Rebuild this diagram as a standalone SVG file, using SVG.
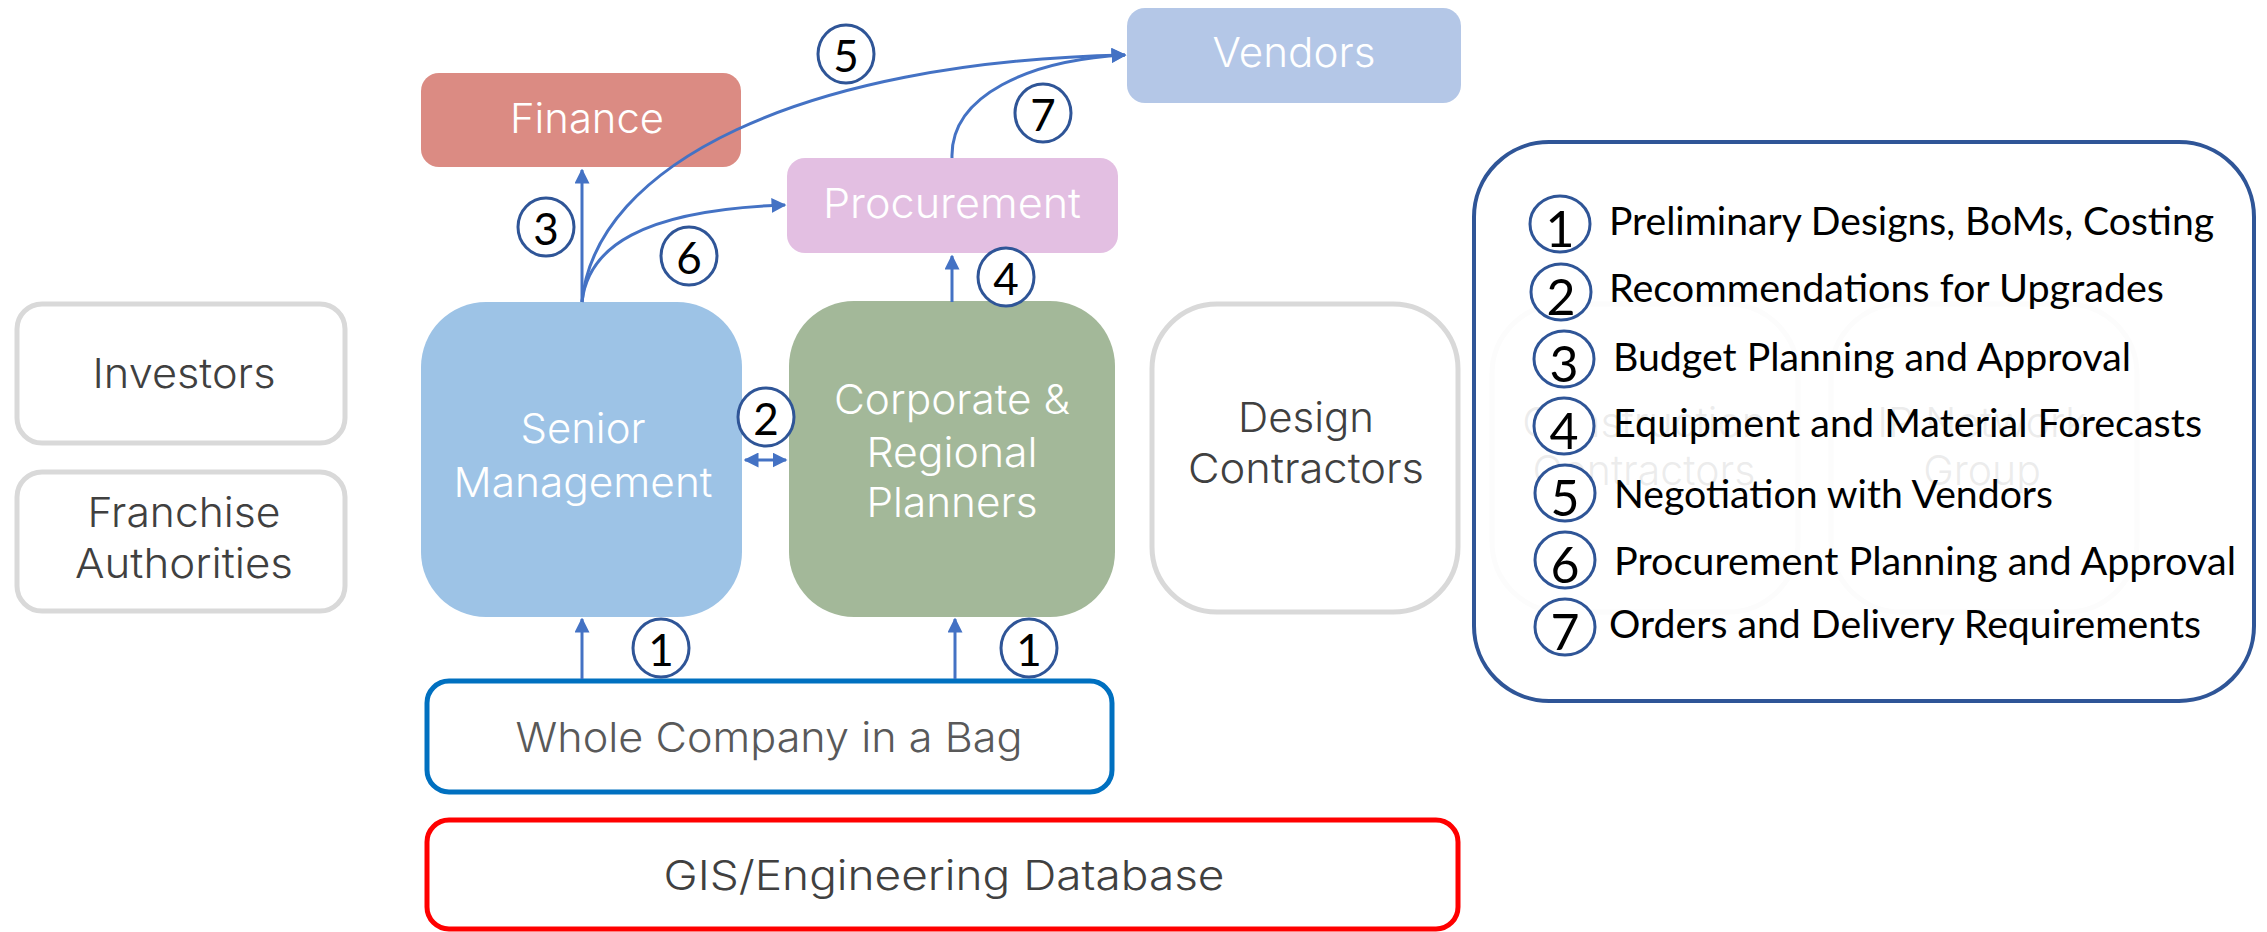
<svg xmlns="http://www.w3.org/2000/svg" width="2267" height="932" viewBox="0 0 2267 932">
  <defs>
    <marker id="arrow" viewBox="0 0 10 10" refX="9" refY="5" markerWidth="5" markerHeight="5" orient="auto-start-reverse" markerUnits="strokeWidth">
      <path d="M0,0 L10,5 L0,10 z" fill="#4472C4"/>
    </marker>
    <style>
      .lbl { font-family: Inter, "Liberation Sans", sans-serif; font-weight: 300; font-size: 41px; text-anchor: middle; }
      .light { fill: #ffffff; }
      .dark { fill: #404040; }
      .ghost { fill: #ececec; }
      .outline { fill: #ffffff; stroke: #d9d9d9; stroke-width: 5; }
      .ghostbox { fill: none; stroke: #d9d9d9; stroke-width: 5; }
      .num { font-family: Lato, "Liberation Sans", sans-serif; font-size: 44px; fill: #000000; text-anchor: middle; }
      .lnum { font-family: Lato, "Liberation Sans", sans-serif; font-size: 50px; fill: #000000; text-anchor: middle; }
      .badge { fill: #ffffff; stroke: #2F5597; stroke-width: 3; }
      .item { font-family: Lato, "Liberation Sans", sans-serif; font-size: 38px; fill: #000000; }
      .conn { fill: none; stroke: #4472C4; stroke-width: 3; }
    </style>
  </defs>

  <!-- stakeholder boxes behind the legend -->
  <g id="construction-contractors">
    <rect class="ghostbox" x="1492" y="304" width="306" height="308" rx="70"/>
    <text class="lbl dark" x="1644" y="437">Construction</text>
    <text class="lbl dark" x="1644" y="485">Contractors</text>
  </g>
  <g id="ip-network-group">
    <rect class="ghostbox" x="1831" y="304" width="306" height="308" rx="70"/>
    <text class="lbl dark" x="1982" y="437">IP Network</text>
    <text class="lbl dark" x="1982" y="485">Group</text>
  </g>

  <!-- legend -->
  <g id="legend">
    <rect x="1474" y="142" width="780" height="559" rx="75" fill="#ffffff" fill-opacity="0.9" stroke="#2F5597" stroke-width="4"/>
    <g>
      <ellipse class="badge" cx="1560" cy="224" rx="30" ry="28"/>
      <text class="lnum" x="1560" y="247">1</text>
      <text class="item" x="1609" y="235" textLength="605" lengthAdjust="spacingAndGlyphs">Preliminary Designs, BoMs, Costing</text>
    </g>
    <g>
      <ellipse class="badge" cx="1561" cy="292" rx="30" ry="28"/>
      <text class="lnum" x="1561" y="315">2</text>
      <text class="item" x="1609" y="302" textLength="555" lengthAdjust="spacingAndGlyphs">Recommendations for Upgrades</text>
    </g>
    <g>
      <ellipse class="badge" cx="1564" cy="359" rx="30" ry="28"/>
      <text class="lnum" x="1564" y="382">3</text>
      <text class="item" x="1613" y="371" textLength="518" lengthAdjust="spacingAndGlyphs">Budget Planning and Approval</text>
    </g>
    <g>
      <ellipse class="badge" cx="1564" cy="426" rx="30" ry="28"/>
      <text class="lnum" x="1564" y="449">4</text>
      <text class="item" x="1613" y="437" textLength="589" lengthAdjust="spacingAndGlyphs">Equipment and Material Forecasts</text>
    </g>
    <g>
      <ellipse class="badge" cx="1565" cy="493" rx="30" ry="28"/>
      <text class="lnum" x="1565" y="516">5</text>
      <text class="item" x="1614" y="508" textLength="439" lengthAdjust="spacingAndGlyphs">Negotiation with Vendors</text>
    </g>
    <g>
      <ellipse class="badge" cx="1565" cy="560" rx="30" ry="28"/>
      <text class="lnum" x="1565" y="583">6</text>
      <text class="item" x="1614" y="575" textLength="622" lengthAdjust="spacingAndGlyphs">Procurement Planning and Approval</text>
    </g>
    <g>
      <ellipse class="badge" cx="1565" cy="627" rx="30" ry="28"/>
      <text class="lnum" x="1565" y="650">7</text>
      <text class="item" x="1609" y="638" textLength="592" lengthAdjust="spacingAndGlyphs">Orders and Delivery Requirements</text>
    </g>
  </g>

  <!-- nodes -->
  <g id="investors">
    <rect class="outline" x="17" y="304" width="328" height="139" rx="25"/>
    <text class="lbl dark" x="184" y="388" textLength="183" lengthAdjust="spacingAndGlyphs">Investors</text>
  </g>
  <g id="franchise-authorities">
    <rect class="outline" x="17" y="472" width="328" height="139" rx="25"/>
    <text class="lbl dark" x="184" y="527" textLength="193" lengthAdjust="spacingAndGlyphs">Franchise</text>
    <text class="lbl dark" x="184" y="578" textLength="218" lengthAdjust="spacingAndGlyphs">Authorities</text>
  </g>
  <g id="senior-management">
    <rect x="421" y="302" width="321" height="315" rx="65" fill="#9DC3E6"/>
    <text class="lbl light" x="583" y="443" textLength="125" lengthAdjust="spacingAndGlyphs">Senior</text>
    <text class="lbl light" x="583" y="497" textLength="259" lengthAdjust="spacingAndGlyphs">Management</text>
  </g>
  <g id="corporate-regional-planners">
    <rect x="789" y="301" width="326" height="316" rx="65" fill="#A3B899"/>
    <text class="lbl light" x="952" y="414" textLength="236" lengthAdjust="spacingAndGlyphs">Corporate &amp;</text>
    <text class="lbl light" x="952" y="467" textLength="171" lengthAdjust="spacingAndGlyphs">Regional</text>
    <text class="lbl light" x="952" y="517" textLength="171" lengthAdjust="spacingAndGlyphs">Planners</text>
  </g>
  <g id="design-contractors">
    <rect class="outline" x="1152" y="304" width="306" height="308" rx="65"/>
    <text class="lbl dark" x="1306" y="432" textLength="136" lengthAdjust="spacingAndGlyphs">Design</text>
    <text class="lbl dark" x="1306" y="483" textLength="236" lengthAdjust="spacingAndGlyphs">Contractors</text>
  </g>
  <g id="finance">
    <rect x="421" y="73" width="320" height="94" rx="18" fill="#DB8B83"/>
    <text class="lbl light" x="587" y="133" textLength="154" lengthAdjust="spacingAndGlyphs">Finance</text>
  </g>
  <g id="procurement">
    <rect x="787" y="158" width="331" height="95" rx="18" fill="#E3BFE2"/>
    <text class="lbl light" x="952" y="218" textLength="258" lengthAdjust="spacingAndGlyphs">Procurement</text>
  </g>
  <g id="vendors">
    <rect x="1127" y="8" width="334" height="95" rx="18" fill="#B4C7E7"/>
    <text class="lbl light" x="1294" y="67" textLength="163" lengthAdjust="spacingAndGlyphs">Vendors</text>
  </g>
  <g id="whole-company-in-a-bag">
    <rect x="427" y="681" width="685" height="111" rx="22" fill="#ffffff" stroke="#0070C0" stroke-width="5"/>
    <text class="lbl" x="769" y="752" fill="#595959" textLength="507" lengthAdjust="spacingAndGlyphs">Whole Company in a Bag</text>
  </g>
  <g id="gis-engineering-database">
    <rect x="427" y="820" width="1031" height="109" rx="22" fill="#ffffff" stroke="#FF0000" stroke-width="5"/>
    <text class="lbl" x="944" y="890" fill="#404040" textLength="561" lengthAdjust="spacingAndGlyphs">GIS/Engineering Database</text>
  </g>

  <!-- connectors -->
  <g id="connectors">
    <path class="conn" d="M582,679 L582,619" marker-end="url(#arrow)"/>
    <path class="conn" d="M955,679 L955,619" marker-end="url(#arrow)"/>
    <path class="conn" d="M745,460 L786,460" marker-start="url(#arrow)" marker-end="url(#arrow)"/>
    <path class="conn" d="M582,302 L582,170" marker-end="url(#arrow)"/>
    <path class="conn" d="M952,302 L952,256" marker-end="url(#arrow)"/>
    <path class="conn" d="M582,302 C595,165 800,62 1125,55" marker-end="url(#arrow)"/>
    <path class="conn" d="M582,302 C588,248 640,210 785,205" marker-end="url(#arrow)"/>
    <path class="conn" d="M952,158 C950,95 1030,60 1125,55" marker-end="url(#arrow)"/>
  </g>

  <!-- step badges on the connectors -->
  <g id="badges">
    <ellipse class="badge" cx="846" cy="54" rx="28" ry="29"/>
    <text class="num" x="846" y="72">5</text>
    <ellipse class="badge" cx="1043" cy="113" rx="28" ry="29"/>
    <text class="num" x="1043" y="131">7</text>
    <ellipse class="badge" cx="546" cy="227" rx="28" ry="29"/>
    <text class="num" x="546" y="245">3</text>
    <ellipse class="badge" cx="689" cy="256" rx="28" ry="29"/>
    <text class="num" x="689" y="274">6</text>
    <ellipse class="badge" cx="1006" cy="277" rx="28" ry="29"/>
    <text class="num" x="1006" y="295">4</text>
    <ellipse class="badge" cx="766" cy="417" rx="28" ry="29"/>
    <text class="num" x="766" y="435">2</text>
    <ellipse class="badge" cx="661" cy="648" rx="28" ry="29"/>
    <text class="num" x="661" y="666">1</text>
    <ellipse class="badge" cx="1029" cy="648" rx="28" ry="29"/>
    <text class="num" x="1029" y="666">1</text>
  </g>
</svg>
